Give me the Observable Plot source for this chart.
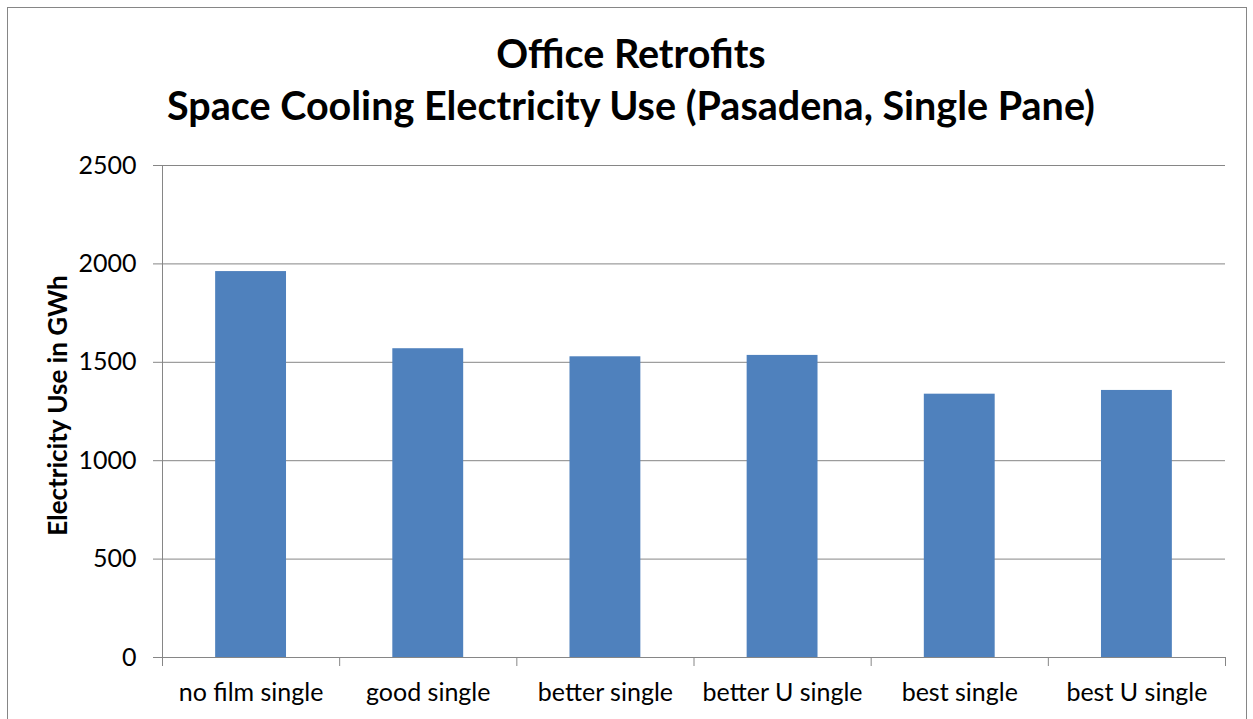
<!DOCTYPE html>
<html><head><meta charset="utf-8">
<script src="https://cdn.jsdelivr.net/npm/d3@7"></script>
<script src="https://cdn.jsdelivr.net/npm/@observablehq/plot@0.6"></script>
<style>
body{margin:0;background:#fff;font-family:Lato,sans-serif;}
#wrap{position:relative;width:1253px;height:719px;overflow:hidden;background:#fff;}
#border{position:absolute;left:7px;top:7px;width:1238px;height:760px;border:1.5px solid #868686;}
#title{position:absolute;left:0;top:27px;width:1262px;text-align:center;font-weight:bold;font-size:39.5px;line-height:52px;color:#000;}
#chart{position:absolute;left:0;top:0;}
</style>
</head><body>
<div id="wrap">
  <div id="border"></div>
  <div id="chart"></div>
  <div id="title">Office Retrofits<br>Space Cooling Electricity Use (Pasadena, Single Pane)</div>
</div>
<script>
const categories = ["no film single","good single","better single","better U single","best single","best U single"];
const values = [1961, 1569, 1528, 1535, 1338, 1357];
const yTicks = [0, 500, 1000, 1500, 2000, 2500];
const yLabel = "Electricity Use in GWh";

const data = categories.map((c, i) => ({cat: c, idx: i, value: values[i]}));
const n = categories.length;
const grid = "#868686";

const chart = Plot.plot({
  width: 1253,
  height: 719,
  marginLeft: 162,
  marginRight: 28,
  marginTop: 165,
  marginBottom: 62,
  style: {fontFamily: "Lato, sans-serif", fontSize: "25px", color: "#000", background: "transparent"},
  x: {type: "linear", domain: [0, n], axis: null},
  y: {domain: [0, 2500], axis: null},
  marks: [
    Plot.gridY(yTicks, {stroke: grid, strokeOpacity: 1, strokeWidth: 1}),
    Plot.rectY(data, {x1: d => d.idx + 0.3, x2: d => d.idx + 0.7, y: "value", fill: "#4F81BD"}),
    Plot.ruleX([0], {stroke: grid, strokeWidth: 1}),
    Plot.ruleY([0], {stroke: grid, strokeWidth: 1}),
    Plot.axisY({ticks: yTicks, tickSize: 9, tickPadding: 17, stroke: grid, fontSize: 25, label: null, tickFormat: d => String(d)}),
    Plot.axisX({ticks: d3.range(n + 1), tickSize: 9, stroke: grid, tickFormat: () => "", label: null}),
    Plot.axisX({ticks: categories.map((c, i) => i + 0.5), tickSize: 0, tickPadding: 26, fontSize: 25, label: null,
      tickFormat: v => categories[Math.floor(v)]}),
    Plot.text([yLabel], {frameAnchor: "left", textAnchor: "middle", lineAnchor: "middle", dx: -104, dy: -6, rotate: -90, text: d => d, fontWeight: "bold", fontSize: 26, fill: "#000"})
  ]
});
document.getElementById("chart").appendChild(chart);
</script>
</body></html>
